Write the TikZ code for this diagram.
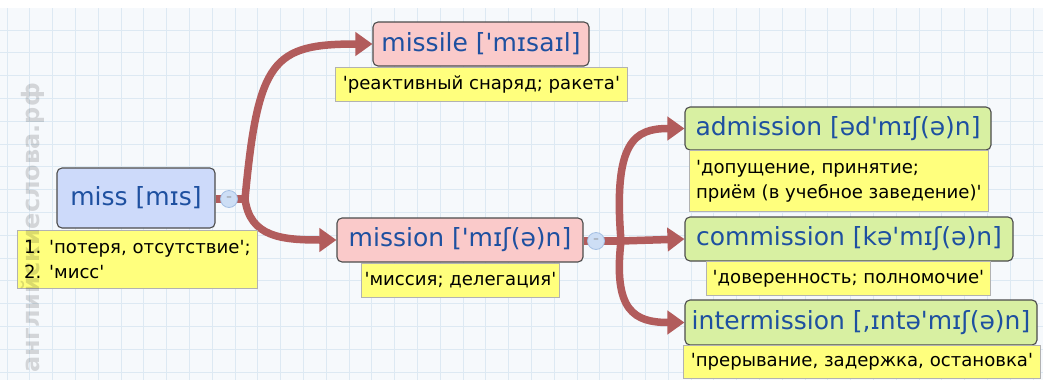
\documentclass[tikz,border=0pt]{standalone}
\usepackage{xcolor}
\usepackage{fontspec}
\usepackage{tikz}
\usetikzlibrary{arrows.meta,positioning}
\newfontfamily\dejavu{DejaVu Sans}
\definecolor{wordblue}{RGB}{30,80,160}
\definecolor{rootblue}{RGB}{205,218,250}
\definecolor{nodepink}{RGB}{250,202,202}
\definecolor{nodegreen}{RGB}{216,240,162}
\definecolor{noteyellow}{RGB}{255,255,125}
\definecolor{linkred}{RGB}{178,92,92}
\definecolor{knobblue}{RGB}{205,222,245}
\definecolor{knobedge}{RGB}{165,192,228}
\definecolor{gridbg}{RGB}{246,249,252}
\definecolor{gridline}{RGB}{221,233,243}
\pgfdeclarelayer{gridlayer}
\pgfdeclarelayer{background}
\pgfsetlayers{gridlayer,background,main}

\begin{document}
\begin{tikzpicture}[x=1pt, y=-1pt,
  wordbox/.style={draw=black!70, line width=1.1pt, rounded corners=5pt, text=wordblue, inner sep=0pt, font=\dejavu\fontsize{25}{29}\selectfont},
  transbox/.style={draw=black!30, line width=0.8pt, fill=noteyellow, inner xsep=2pt, inner ysep=0pt, anchor=north west, font=\dejavu\fontsize{18.1}{25}\selectfont, align=left},
  link/.style={draw=linkred, line width=7.5pt},
  linkto/.style={link, -{Triangle[length=17pt,width=23pt]}},
  knob/.style={circle, draw=knobedge, fill=knobblue, line width=0.8pt, minimum size=17pt, inner sep=0pt, font=\dejavu\fontsize{11}{11}\selectfont, text=black!50}]
\useasboundingbox (0,0) rectangle (1043,380);
\begin{pgfonlayer}{gridlayer}
\fill[white] (0,0) rectangle (1043,380);
\fill[gridbg] (0,8) rectangle (1043,380);
\foreach \gx in {7,29.8,...,1043} \draw[gridline, line width=0.8pt] (\gx,8) -- (\gx,380);
\foreach \gy in {30,52.8,...,380} \draw[gridline, line width=0.8pt] (0,\gy) -- (1043,\gy);
\end{pgfonlayer}

\node[wordbox, fill=rootblue, minimum width=158pt, minimum height=60pt] (miss) at (136,198) {miss [mɪs]};
\node[wordbox, fill=nodepink, minimum width=216pt, minimum height=44pt] (missile) at (481,44) {missile ['mɪsaɪl]};
\node[wordbox, fill=nodepink, minimum width=246pt, minimum height=44pt] (mission) at (460,240) {mission ['mɪʃ(ə)n]};
\node[wordbox, fill=nodegreen, minimum width=306pt, minimum height=43pt] (admission) at (838,128.5) {admission [əd'mɪʃ(ə)n]};
\node[wordbox, fill=nodegreen, minimum width=328pt, minimum height=44pt] (commission) at (849,239) {commission [kə'mɪʃ(ə)n]};
\node[wordbox, fill=nodegreen, minimum width=352pt, minimum height=45pt] (intermission) at (861,322.5) {intermission [,ɪntə'mɪʃ(ə)n]};

\node[transbox, minimum width=240pt, minimum height=58pt] (misstr) at (17,230) {1. 'потеря, отсутствие';\\2. 'мисс'};
\node[transbox, minimum width=292pt, minimum height=34pt] (missiletr) at (335,67) {'реактивный снаряд; ракета'};
\node[transbox, minimum width=198pt, minimum height=34pt] (missiontr) at (361,263) {'миссия; делегация'};
\node[transbox, minimum width=299pt, minimum height=61pt] (admissiontr) at (689,150) {'допущение, принятие;\\приём (в учебное заведение)'};
\node[transbox, minimum width=284pt, minimum height=34pt] (commissiontr) at (706,261) {'доверенность; полномочие'};
\node[transbox, minimum width=357pt, minimum height=33pt] (intermissiontr) at (683,345) {'прерывание, задержка, остановка'};

\node[knob] (missknob) at (229,199) {–};
\node[knob] (missionknob) at (596,241) {–};
\coordinate (missfork) at (245,199);
\coordinate (missionfork) at (621,241);

\begin{pgfonlayer}{background}
\draw[link] (miss.east |- missknob) -- (missfork);
\draw[linkto] (missfork) .. controls +(13,-139) and +(-100,0) .. (missile.west);
\draw[linkto] (missfork) .. controls +(5,38) and +(-55,0) .. (mission.west);
\draw[link] (mission.east |- missionknob) -- (missionfork);
\draw[linkto] (missionfork) .. controls +(-8,-100) and +(-50,0) .. (admission.west);
\draw[linkto] (missionfork) -- (commission.west);
\draw[linkto] (missionfork) .. controls +(-8,70) and +(-50,0) .. (intermission.west);
\end{pgfonlayer}

\node[rotate=90, text=black, text opacity=0.14, font=\dejavu\bfseries\fontsize{24}{24}\selectfont] (site) at (33,228) {английскиеслова.рф};
\end{tikzpicture}
\end{document}
